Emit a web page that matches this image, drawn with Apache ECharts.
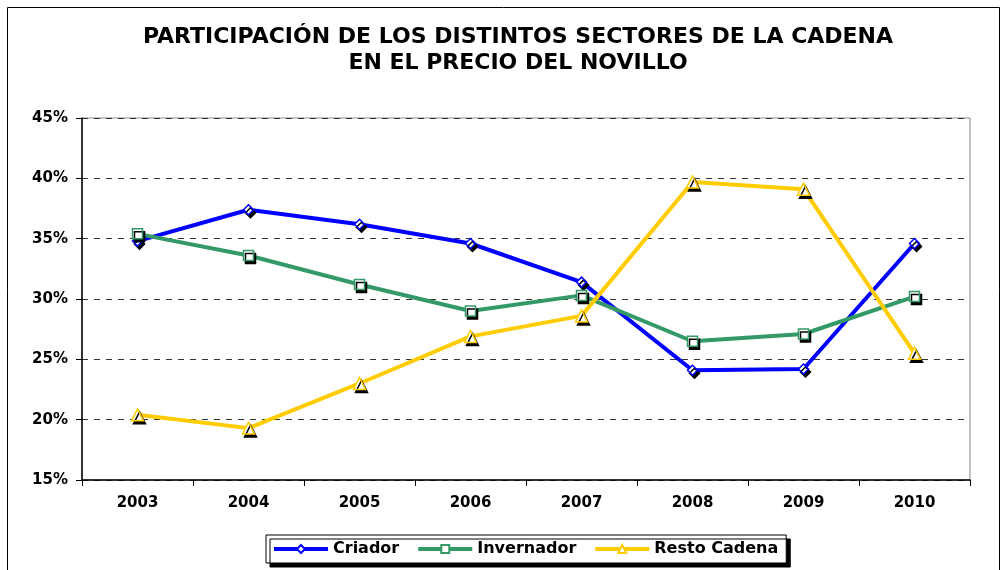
<!DOCTYPE html>
<html><head><meta charset="utf-8">
<script src="https://cdn.jsdelivr.net/npm/echarts@6/dist/echarts.min.js"></script>
<style>html,body{margin:0;padding:0;background:#fff}#c{width:1003px;height:570px}</style>
</head><body><div id="c"></div>
<script>
const categories = ['2003','2004','2005','2006','2007','2008','2009','2010'];
const criador = [34.8, 37.4, 36.2, 34.6, 31.4, 24.1, 24.2, 34.6];
const invernador = [35.4, 33.6, 31.2, 29.0, 30.3, 26.5, 27.1, 30.2];
const restoCadena = [20.4, 19.3, 23.0, 26.9, 28.6, 39.7, 39.1, 25.5];
const yTicks = [15, 20, 25, 30, 35, 40, 45];

const font = '"DejaVu Sans", Verdana, sans-serif';
function mk(name, data, color, symbol) {
  return {
    name, type: 'line', data, symbol, symbolSize: symbol === 'triangle' ? 12 : 10,
    lineStyle: { color, width: 4 },
    itemStyle: { color: '#fff', borderColor: color, borderWidth: 1.5,
      shadowColor: '#000', shadowOffsetX: 2, shadowOffsetY: 3, shadowBlur: 0 },
    emphasis: { disabled: true }, z: 3
  };
}
const chart = echarts.init(document.getElementById('c'), null, { renderer: 'canvas' });
chart.setOption({
  animation: false,
  backgroundColor: '#fff',
  graphic: [{ type: 'rect', shape: { x: 7.5, y: 7.5, width: 992, height: 600 },
    style: { fill: 'none', stroke: '#000', lineWidth: 1 }, z: -1 }],
  title: {
    text: 'PARTICIPACIÓN DE LOS DISTINTOS SECTORES DE LA CADENA\nEN EL PRECIO DEL NOVILLO',
    left: 513, top: 19, textAlign: 'center',
    textStyle: { fontFamily: font, fontSize: 22, fontWeight: 'bold', color: '#000', lineHeight: 26 }
  },
  legend: {
    top: 535, left: 266,
    data: ['Criador', 'Invernador', 'Resto Cadena'],
    itemWidth: 54, itemHeight: 10, itemGap: 17,
    padding: [6, 8, 6, 6],
    lineStyle: { width: 4 },
    backgroundColor: '#fff', borderColor: '#000', borderWidth: 1,
    shadowColor: '#000', shadowOffsetX: 4, shadowOffsetY: 4, shadowBlur: 0,
    textStyle: { fontFamily: font, fontSize: 16, fontWeight: 'bold', color: '#000' }
  },
  grid: { left: 82, right: 33, top: 118, bottom: 90, show: true, borderColor: '#888', borderWidth: 1 },
  xAxis: {
    type: 'category', data: categories, boundaryGap: true,
    axisLine: { lineStyle: { color: '#000', width: 1.5 } },
    axisTick: { show: true, length: 6, lineStyle: { color: '#000' } },
    axisLabel: { fontFamily: font, fontSize: 15, fontWeight: 'bold', color: '#000', margin: 16 }
  },
  yAxis: {
    type: 'value', min: 15, max: 45, interval: 5,
    axisLine: { show: true, lineStyle: { color: '#000', width: 1.5 } },
    axisTick: { show: true, length: 6, lineStyle: { color: '#000' } },
    axisLabel: { fontFamily: font, fontSize: 15, fontWeight: 'bold', color: '#000', margin: 14,
      formatter: v => yTicks.includes(v) ? v + '%' : '' },
    splitLine: { show: true, lineStyle: { color: '#333', type: [6, 6], width: 1 } }
  },
  series: [
    mk('Criador', criador, '#0000ff', 'diamond'),
    mk('Invernador', invernador, '#339966', 'rect'),
    mk('Resto Cadena', restoCadena, '#ffcc00', 'triangle')
  ]
});
</script></body></html>
